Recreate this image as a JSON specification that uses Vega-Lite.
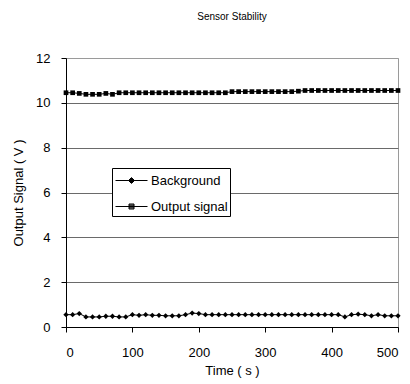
{
  "$schema": "https://vega.github.io/schema/vega-lite/v6.json",
  "width": 332,
  "height": 269,
  "autosize": {"type": "none"},
  "padding": {"left": 66, "top": 58, "right": 12, "bottom": 57},
  "background": "white",
  "title": {"text": "Sensor Stability", "font": "Liberation Sans", "fontSize": 10, "fontWeight": "normal", "color": "black", "offset": 30, "anchor": "middle"},
  "config": {
    "view": {"stroke": "#9a9a9a", "strokeWidth": 1},
    "axis": {"labelFont": "Liberation Sans", "titleFont": "Liberation Sans", "labelFontSize": 13, "titleFontSize": 13, "titleFontWeight": "normal", "labelColor": "black", "titleColor": "black", "domainColor": "black", "tickColor": "black", "tickSize": 5}
  },
  "data": {"values": [
    {"t":0,"s":"Background","v":0.55},{"t":10,"s":"Background","v":0.55},{"t":20,"s":"Background","v":0.6},{"t":30,"s":"Background","v":0.45},{"t":40,"s":"Background","v":0.45},{"t":50,"s":"Background","v":0.45},{"t":60,"s":"Background","v":0.48},{"t":70,"s":"Background","v":0.48},{"t":80,"s":"Background","v":0.45},{"t":90,"s":"Background","v":0.45},
    {"t":100,"s":"Background","v":0.55},{"t":110,"s":"Background","v":0.52},{"t":120,"s":"Background","v":0.55},{"t":130,"s":"Background","v":0.52},{"t":140,"s":"Background","v":0.52},{"t":150,"s":"Background","v":0.5},{"t":160,"s":"Background","v":0.5},{"t":170,"s":"Background","v":0.5},{"t":180,"s":"Background","v":0.55},{"t":190,"s":"Background","v":0.62},
    {"t":200,"s":"Background","v":0.6},{"t":210,"s":"Background","v":0.55},{"t":220,"s":"Background","v":0.55},{"t":230,"s":"Background","v":0.55},{"t":240,"s":"Background","v":0.55},{"t":250,"s":"Background","v":0.55},{"t":260,"s":"Background","v":0.55},{"t":270,"s":"Background","v":0.55},{"t":280,"s":"Background","v":0.55},{"t":290,"s":"Background","v":0.55},
    {"t":300,"s":"Background","v":0.55},{"t":310,"s":"Background","v":0.55},{"t":320,"s":"Background","v":0.55},{"t":330,"s":"Background","v":0.55},{"t":340,"s":"Background","v":0.55},{"t":350,"s":"Background","v":0.55},{"t":360,"s":"Background","v":0.55},{"t":370,"s":"Background","v":0.55},{"t":380,"s":"Background","v":0.55},{"t":390,"s":"Background","v":0.55},
    {"t":400,"s":"Background","v":0.55},{"t":410,"s":"Background","v":0.55},{"t":420,"s":"Background","v":0.45},{"t":430,"s":"Background","v":0.55},{"t":440,"s":"Background","v":0.57},{"t":450,"s":"Background","v":0.55},{"t":460,"s":"Background","v":0.5},{"t":470,"s":"Background","v":0.55},{"t":480,"s":"Background","v":0.5},{"t":490,"s":"Background","v":0.5},{"t":500,"s":"Background","v":0.5},
    {"t":0,"s":"Output signal","v":10.45},{"t":10,"s":"Output signal","v":10.45},{"t":20,"s":"Output signal","v":10.42},{"t":30,"s":"Output signal","v":10.38},{"t":40,"s":"Output signal","v":10.38},{"t":50,"s":"Output signal","v":10.38},{"t":60,"s":"Output signal","v":10.42},{"t":70,"s":"Output signal","v":10.38},{"t":80,"s":"Output signal","v":10.45},{"t":90,"s":"Output signal","v":10.45},
    {"t":100,"s":"Output signal","v":10.45},{"t":110,"s":"Output signal","v":10.45},{"t":120,"s":"Output signal","v":10.45},{"t":130,"s":"Output signal","v":10.45},{"t":140,"s":"Output signal","v":10.45},{"t":150,"s":"Output signal","v":10.45},{"t":160,"s":"Output signal","v":10.45},{"t":170,"s":"Output signal","v":10.45},{"t":180,"s":"Output signal","v":10.45},{"t":190,"s":"Output signal","v":10.45},
    {"t":200,"s":"Output signal","v":10.45},{"t":210,"s":"Output signal","v":10.45},{"t":220,"s":"Output signal","v":10.45},{"t":230,"s":"Output signal","v":10.45},{"t":240,"s":"Output signal","v":10.45},{"t":250,"s":"Output signal","v":10.5},{"t":260,"s":"Output signal","v":10.5},{"t":270,"s":"Output signal","v":10.5},{"t":280,"s":"Output signal","v":10.5},{"t":290,"s":"Output signal","v":10.5},
    {"t":300,"s":"Output signal","v":10.5},{"t":310,"s":"Output signal","v":10.5},{"t":320,"s":"Output signal","v":10.5},{"t":330,"s":"Output signal","v":10.5},{"t":340,"s":"Output signal","v":10.5},{"t":350,"s":"Output signal","v":10.52},{"t":360,"s":"Output signal","v":10.55},{"t":370,"s":"Output signal","v":10.55},{"t":380,"s":"Output signal","v":10.55},{"t":390,"s":"Output signal","v":10.55},
    {"t":400,"s":"Output signal","v":10.55},{"t":410,"s":"Output signal","v":10.55},{"t":420,"s":"Output signal","v":10.55},{"t":430,"s":"Output signal","v":10.55},{"t":440,"s":"Output signal","v":10.55},{"t":450,"s":"Output signal","v":10.55},{"t":460,"s":"Output signal","v":10.55},{"t":470,"s":"Output signal","v":10.55},{"t":480,"s":"Output signal","v":10.55},{"t":490,"s":"Output signal","v":10.55},{"t":500,"s":"Output signal","v":10.55}
  ]},
  "encoding": {
    "x": {"field": "t", "type": "quantitative", "title": "Time ( s )", "scale": {"domain": [0, 500], "nice": false}, "axis": {"values": [0,100,200,300,400,500], "grid": false, "labelPadding": 14, "titlePadding": 5}},
    "y": {"field": "v", "type": "quantitative", "title": "Output Signal ( V )", "scale": {"domain": [0, 12], "nice": false}, "axis": {"values": [0,2,4,6,8,10,12], "grid": true, "gridColor": {"condition": {"test": "datum.value === 12", "value": "#9a9a9a"}, "value": "#6a6a6a"}, "gridOpacity": 1, "labelPadding": 11, "titlePadding": 10}}
  },
  "layer": [
    {"mark": {"type": "line", "strokeWidth": 1, "color": "black"},
     "encoding": {"detail": {"field": "s"}}},
    {"transform": [{"filter": "datum.s === 'Background'"}],
     "mark": {"type": "point", "filled": true, "color": "black", "opacity": 1, "size": 28, "shape": "diamond"}},
    {"transform": [{"filter": "datum.s === 'Output signal'"}],
     "mark": {"type": "point", "filled": true, "color": "black", "opacity": 1, "size": 22, "shape": "square"}},
    {"mark": {"type": "point", "filled": false, "color": "black", "opacity": 0, "strokeWidth": 1},
     "encoding": {
       "shape": {"field": "s", "type": "nominal",
         "scale": {"domain": ["Background", "Output signal"], "range": ["M-0.9,0H2.3M0.4,0L0.7,-0.3L1,0L0.7,0.3ZM0.6,-0.2H0.8M0.5,-0.1H0.9M0.5,0.1H0.9M0.6,0.2H0.8", "M-0.9,0H2.3M0.45,-0.25H0.95V0.25H0.45ZM0.45,-0.15H0.95M0.45,-0.05H0.95M0.45,0.05H0.95M0.45,0.15H0.95"]},
         "legend": {"title": null, "orient": "none", "legendX": 46, "legendY": 110, "strokeColor": "black", "fillColor": "white", "padding": 2, "symbolSize": 400, "rowPadding": 8, "labelFont": "Liberation Sans", "labelFontSize": 13, "labelColor": "black", "labelOffset": 16, "symbolStrokeColor": "black", "symbolStrokeWidth": 1, "symbolOpacity": 1}}
     }}
  ]
}
